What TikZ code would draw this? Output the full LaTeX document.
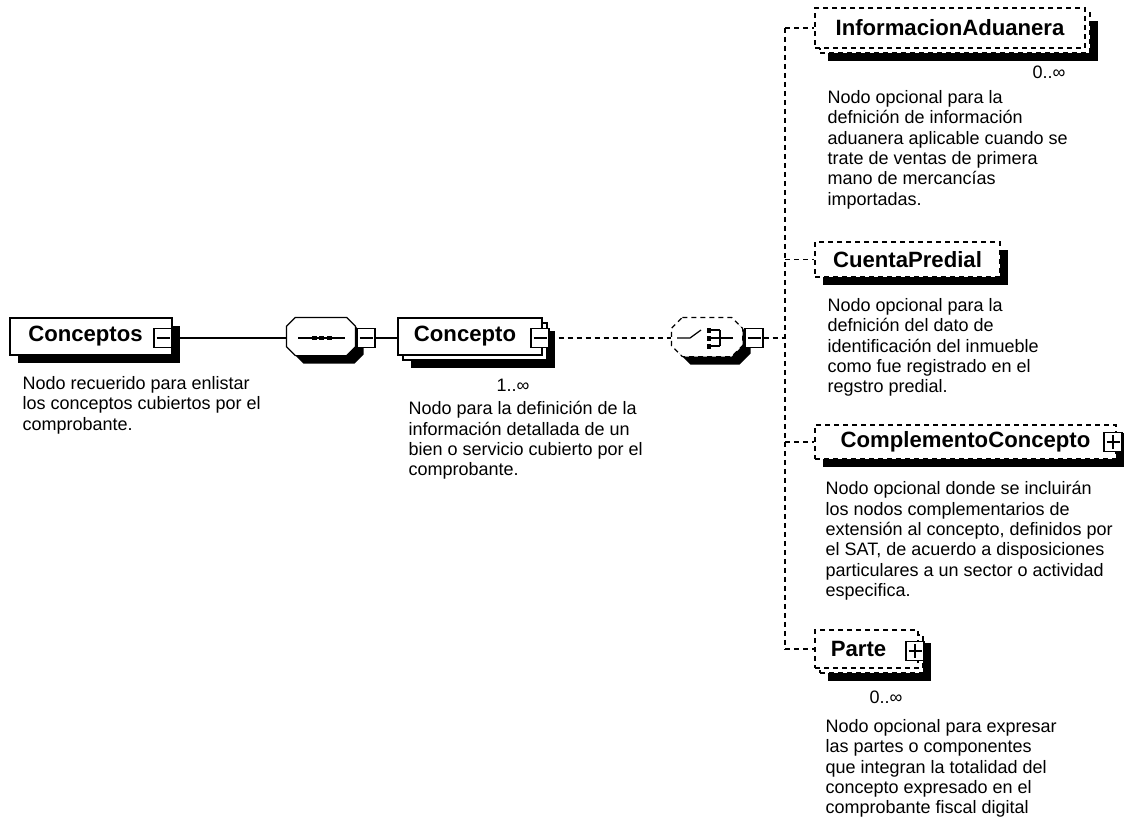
\documentclass[tikz,border=0pt]{standalone}
\usepackage{fontspec}
\setmainfont{Liberation Sans}
\usetikzlibrary{shadows}

\newcommand\octopath[2]{([xshift=#2]#1.north west) -- ([xshift=-#2]#1.north east)
  -- ([yshift=-#2]#1.north east) -- ([yshift=#2]#1.south east)
  -- ([xshift=-#2]#1.south east) -- ([xshift=#2]#1.south west)
  -- ([yshift=#2]#1.south west) -- ([yshift=-#2]#1.north west) -- cycle}

\begin{document}
\begin{tikzpicture}[x=0.02cm,y=-0.02cm,line width=0.7pt,
  elem/.style={draw,fill=white,rectangle,inner sep=0pt,
    font=\fontsize{12.6}{14}\selectfont\bfseries},
  optl/.style={dash pattern=on 0.1cm off 0.08cm},
  shd/.style={general shadow={fill=black,shadow xshift=0.16cm,shadow yshift=-0.16cm}},
  multi/.style={general shadow={fill=black,shadow xshift=0.26cm,shadow yshift=-0.26cm},
    general shadow={draw,fill=white,shadow xshift=0.1cm,shadow yshift=-0.1cm}},
  octo/.style={rectangle,inner sep=0pt},
  octoshd/.style={fill=black,transform canvas={xshift=0.16cm,yshift=-0.16cm}},
  btn/.style={draw,fill=white,solid,rectangle,minimum width=0.36cm,minimum height=0.38cm,inner sep=0pt},
  minus/.style={btn,path picture={\draw ([xshift=0.05cm]path picture bounding box.west)
    -- ([xshift=-0.05cm]path picture bounding box.east);}},
  plus/.style={btn,path picture={\draw ([xshift=0.05cm]path picture bounding box.west)
    -- ([xshift=-0.05cm]path picture bounding box.east);
    \draw ([yshift=-0.05cm]path picture bounding box.north)
    -- ([yshift=0.05cm]path picture bounding box.south);}},
  desc/.style={inner sep=0pt,align=left,anchor=north west,
    font=\fontsize{10.24}{11.55}\selectfont},
  occ/.style={inner sep=0pt,font=\fontsize{10.24}{11.55}\selectfont}]
\fill[white] (0,0) rectangle (1125,818);

\node[elem,shd,minimum width=3.24cm,minimum height=0.74cm] (conceptos) at (91,336.5) {Conceptos\hspace*{0.22cm}};
\node[minus] (bconceptos) at (163,338) {};
\node[desc] (dconceptos) at (22,376) {Nodo recuerido para enlistar\\los conceptos cubiertos por el\\comprobante.};

\node[octo,minimum width=1.36cm,minimum height=0.74cm] (seq) at (321,336.5) {};
\fill[octoshd] \octopath{seq}{0.18cm};
\draw[fill=white] \octopath{seq}{0.18cm};
\node[minus] (bseq) at (366,338) {};
\draw (298,338) -- (345,338);
\foreach \x in {314,321.5,329}
  \fill (\x-2.5,336) rectangle (\x+2.5,340);

\node[elem,multi,minimum width=2.88cm,minimum height=0.74cm] (concepto) at (470,336.5) {Concepto\hspace*{0.2cm}};
\node[minus] (bconcepto) at (540,338) {};
\node[occ] (oconcepto) at (513,385) {1..∞};
\node[desc] (dconcepto) at (408,401) {Nodo para la definición de la\\información detallada de un\\bien o servicio cubierto por el\\comprobante.};

\node[octo,minimum width=1.4cm,minimum height=0.76cm] (choice) at (707,337) {};
\fill[octoshd] \octopath{choice}{0.22cm};
\draw[optl,fill=white] \octopath{choice}{0.22cm};
\node[minus] (bchoice) at (754,338) {};
\draw (677,338) -- (690,338) -- (701,330);
\foreach \y in {330,338,346} {
  \fill (706.5,\y-2.5) rectangle (710.5,\y+2.5);
  \draw (710.5,\y) -- (720,\y);
}
\draw (720,330) -- (720,346);
\draw (720,338) -- (733,338);

\node[elem,optl,multi,minimum width=5.4cm,minimum height=0.8cm] (info) at (950,28) {InformacionAduanera};
\node[occ] (oinfo) at (1049,72) {0..∞};
\node[desc] (dinfo) at (827,90) {Nodo opcional para la\\defnición de información\\aduanera aplicable cuando se\\trate de ventas de primera\\mano de mercancías\\importadas.};

\node[elem,optl,shd,minimum width=3.7cm,minimum height=0.7cm] (cuenta) at (907.5,259.5) {CuentaPredial};
\node[desc] (dcuenta) at (827,298) {Nodo opcional para la\\defnición del dato de\\identificación del inmueble\\como fue registrado en el\\regstro predial.};

\node[elem,optl,shd,minimum width=6.02cm,minimum height=0.68cm] (compl) at (965.5,442) {ComplementoConcepto};
\node[plus] (bcompl) at (1113,442) {};
\node[desc] (dcompl) at (825,481) {Nodo opcional donde se incluirán\\los nodos complementarios de\\extensión al concepto, definidos por\\el SAT, de acuerdo a disposiciones\\particulares a un sector o actividad\\especifica.};

\node[elem,optl,multi,minimum width=2.06cm,minimum height=0.76cm] (parte) at (866.5,649) {Parte\hspace*{0.32cm}};
\node[plus] (bparte) at (915,651) {};
\node[occ] (oparte) at (886,697) {0..∞};
\node[desc] (dparte) at (825,719) {Nodo opcional para expresar\\las partes o componentes\\que integran la totalidad del\\concepto expresado en el\\comprobante fiscal digital};

\coordinate (bus) at (785,338);
\draw (bconceptos.east) -- (bconceptos.east -| seq.west);
\draw (bseq.west -| seq.east) -- (bseq.west);
\draw (bseq.east) -- (bseq.east -| concepto.west);
\draw[optl] (bconcepto.east) -- (bconcepto.east -| choice.west);
\draw[optl] (bchoice.east) -- (bus);
\draw[optl] (bus |- info.west) -- (bus |- parte.west);
\foreach \n in {info,cuenta,compl,parte}
  \draw[optl] (bus |- \n.west) -- (\n.west);
\end{tikzpicture}
\end{document}
